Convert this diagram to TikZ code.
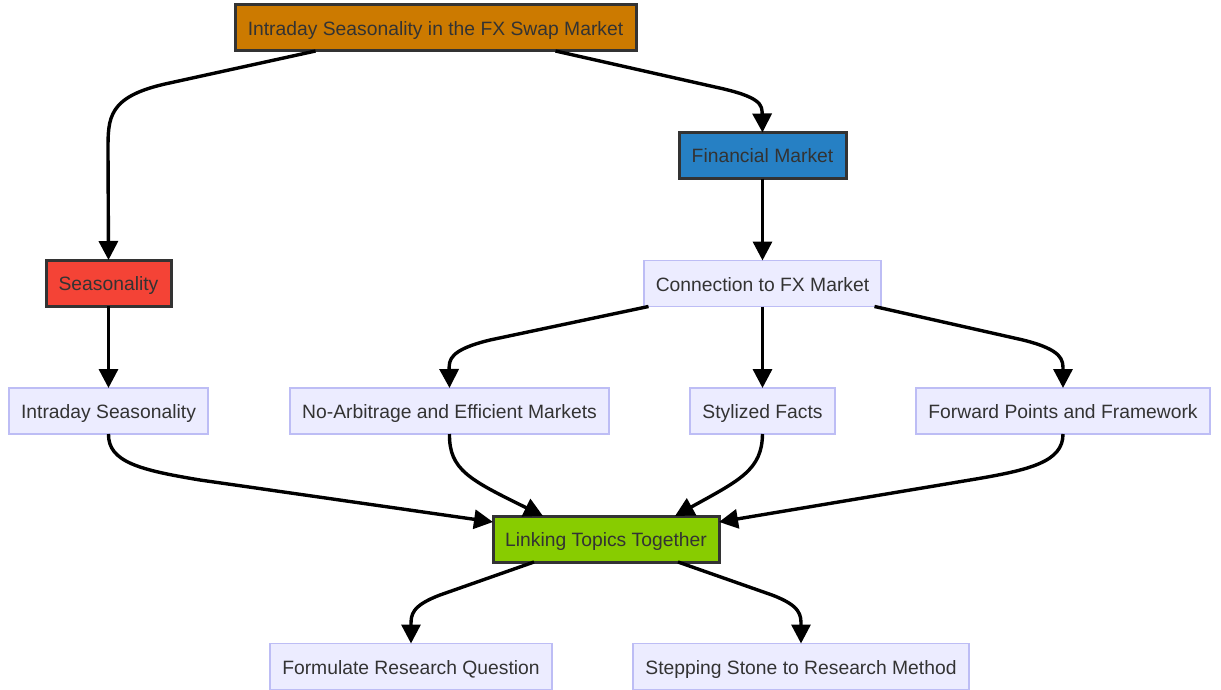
\documentclass[tikz,border=0pt]{standalone}
\usepackage{fontspec}
\setmainfont{Liberation Sans}
\usetikzlibrary{arrows.meta,calc}
\definecolor{txt}{HTML}{333333}
\definecolor{cOrange}{HTML}{CC7A00}
\definecolor{cBlue}{HTML}{2680C4}
\definecolor{cRed}{HTML}{F44336}
\definecolor{cGreen}{HTML}{88CC00}
\definecolor{lFill}{HTML}{ECECFF}
\definecolor{lBorder}{HTML}{BDBDF5}
\begin{document}
\begin{tikzpicture}[x=1pt,y=-1pt,
  every node/.style={font=\fontsize{19.3}{23}\selectfont, text=txt, inner sep=0pt, outer sep=0pt, text height=17pt, text depth=2pt},
  strong/.style={draw=txt, line width=3pt, minimum height=46pt},
  light/.style={draw=lBorder, fill=lFill, line width=1.3pt, minimum height=46pt},
  edge/.style={line width=3.4pt, -{Triangle[length=19pt,width=19pt]}}]
\useasboundingbox (0,0) rectangle (1221,690);
\node[strong, fill=cOrange, minimum width=401pt] (top) at (435.5,28) {Intraday Seasonality in the FX Swap Market};
\node[strong, fill=cBlue, minimum width=167pt] (fin) at (762.5,155.5) {Financial Market};
\node[strong, fill=cRed, minimum width=125pt] (seas) at (108.5,283) {Seasonality};
\node[light, minimum width=237pt] (conn) at (762.5,283.5) {Connection to FX Market};
\node[light, minimum width=199pt] (intra) at (108.5,411) {Intraday Seasonality};
\node[light, minimum width=319pt] (noarb) at (449.5,411) {No-Arbitrage and Efficient Markets};
\node[light, minimum width=145pt] (styl) at (762.5,411) {Stylized Facts};
\node[light, minimum width=294pt] (fwd) at (1063,411) {Forward Points and Framework};
\node[strong, fill=cGreen, minimum width=226pt] (link) at (606,539) {Linking Topics Together};
\node[light, minimum width=282pt] (form) at (411,666.5) {Formulate Research Question};
\node[light, minimum width=336pt] (step) at (801,666.5) {Stepping Stone to Research Method};

\draw[edge] ([xshift=-120pt]top.south) -- (165,84) .. controls (108,97) and (108,118) .. (108,150) -- (seas.north);
\draw[edge] ([xshift=120pt]top.south) -- (715,87) .. controls (762,97) and (762,105) .. (fin.north);
\draw[edge] (fin.south) -- (conn.north);
\draw[edge] (seas.south) -- (intra.north);
\draw[edge] ([xshift=-114pt]conn.south) -- (490,340) .. controls (449,350) and (449,360) .. (noarb.north);
\draw[edge] (conn.south) -- (styl.north);
\draw[edge] ([xshift=112pt]conn.south) -- (1023,340) .. controls (1063,350) and (1063,360) .. (fwd.north);
\draw[edge] (intra.south) .. controls (108,462) and (140,470) .. (200,480) -- ([yshift=-6pt]link.north west);
\draw[edge] (noarb.south) .. controls (449,470) and (470,480) .. ([xshift=-63pt]link.north);
\draw[edge] (styl.south) .. controls (762,470) and (740,480) .. ([xshift=69pt]link.north);
\draw[edge] (fwd.south) .. controls (1063,462) and (1030,470) .. (970,480) -- ([yshift=-6pt]link.north east);
\draw[edge] ([xshift=-72pt]link.south) -- (440,595) .. controls (411,606) and (411,615) .. (form.north);
\draw[edge] ([xshift=72pt]link.south) -- (772,595) .. controls (801,606) and (801,615) .. (step.north);
\end{tikzpicture}
\end{document}
